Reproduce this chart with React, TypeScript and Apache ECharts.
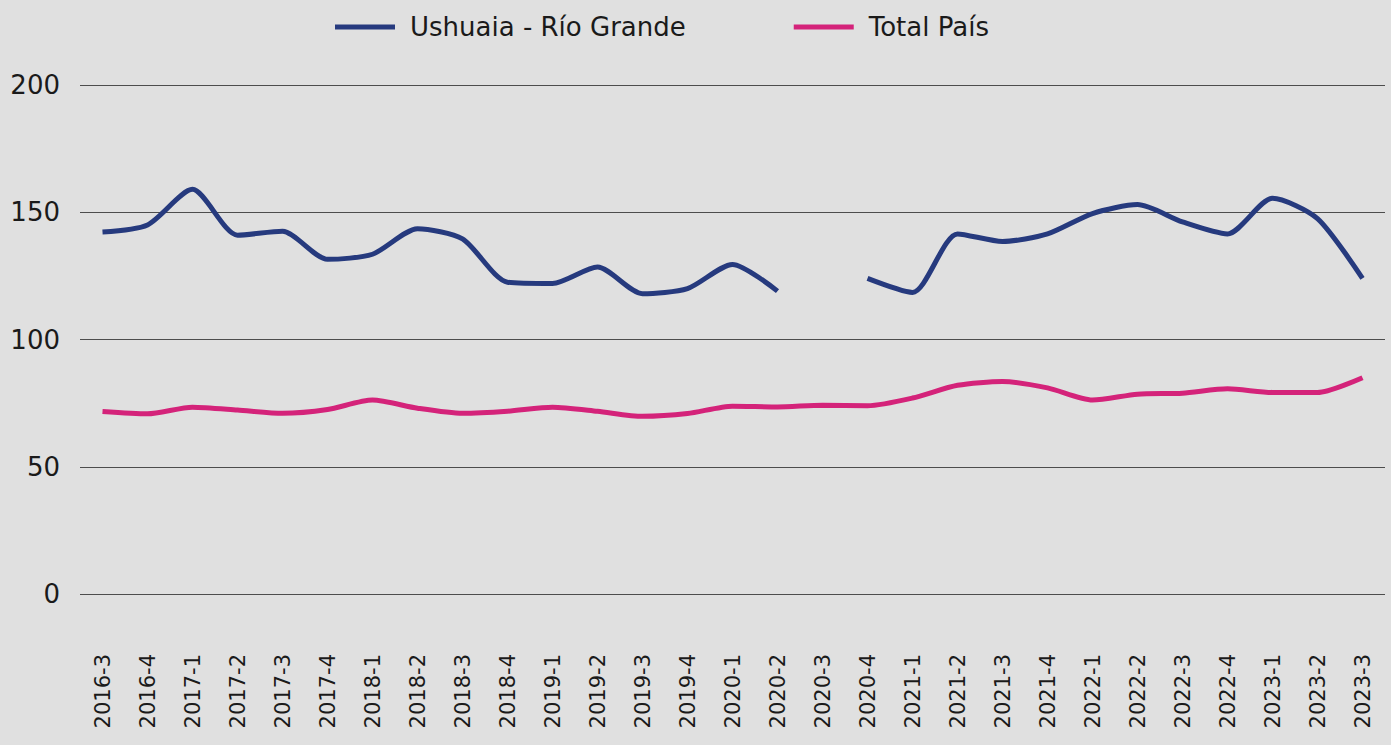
import React, { useEffect, useRef } from "react";
import * as echarts from "echarts";

const categories = [
  "2016-3", "2016-4",
  "2017-1", "2017-2", "2017-3", "2017-4",
  "2018-1", "2018-2", "2018-3", "2018-4",
  "2019-1", "2019-2", "2019-3", "2019-4",
  "2020-1", "2020-2", "2020-3", "2020-4",
  "2021-1", "2021-2", "2021-3", "2021-4",
  "2022-1", "2022-2", "2022-3", "2022-4",
  "2023-1", "2023-2", "2023-3",
];

const ushuaiaRioGrande: (number | null)[] = [
  142.2, 145, 159, 141, 142.5, 131.5, 133.5, 143.5, 139.5, 122.5,
  122, 128.5, 118, 120, 129.5, 119, null, 124, 118.5, 141.5,
  138.5, 141.5, 149.5, 153, 146.2, 141.5, 155.5, 147.5, 124,
];

const totalPais: number[] = [
  71.7, 70.8, 73.4, 72.3, 71, 72.5, 76.2, 73, 71, 71.8,
  73.4, 71.8, 69.8, 70.9, 73.8, 73.5, 74.2, 74, 77, 82,
  83.5, 81, 76.2, 78.5, 78.9, 80.6, 79.2, 79.2, 85,
];

const yTicks = { min: 0, max: 200, interval: 50 };

const FONT = "DejaVu Sans";
const BLUE = "#263a7e";
const PINK = "#d4237a";

export default function App() {
  const ref = useRef<HTMLDivElement>(null);

  useEffect(() => {
    document.body.style.margin = "0";
    document.body.style.background = "#e0e0e0";
    if (!ref.current) return;
    const chart = echarts.init(ref.current, null, { renderer: "svg" });
    chart.setOption({
      animation: false,
      backgroundColor: "#e0e0e0",
      textStyle: { fontFamily: FONT },
      legend: {
        left: 330,
        top: 9,
        itemWidth: 60,
        itemHeight: 5,
        itemGap: 108,
        icon: "rect",
        textStyle: { fontFamily: FONT, fontSize: 26, color: "#1a1a1a", padding: [0, 0, 0, 10] },
        data: ["Ushuaia - Río Grande", "Total País"],
      },
      grid: { left: 80, right: 6, top: 85, bottom: 151, containLabel: false },
      xAxis: {
        type: "category",
        data: categories,
        boundaryGap: true,
        axisLine: { show: false },
        axisTick: { show: false },
        axisLabel: {
          rotate: 90,
          margin: 60,
          interval: 0,
          fontFamily: FONT,
          fontSize: 21,
          color: "#1a1a1a",
        },
      },
      yAxis: {
        type: "value",
        min: yTicks.min,
        max: yTicks.max,
        interval: yTicks.interval,
        axisLine: { show: false },
        axisTick: { show: false },
        axisLabel: { margin: 20, fontFamily: FONT, fontSize: 26, color: "#1a1a1a" },
        splitLine: { lineStyle: { color: "#4d4d4d", width: 1 } },
      },
      series: [
        {
          name: "Ushuaia - Río Grande",
          type: "line",
          data: ushuaiaRioGrande,
          smooth: 0.25,
          symbol: "none",
          connectNulls: false,
          lineStyle: { color: BLUE, width: 5 },
          itemStyle: { color: BLUE },
        },
        {
          name: "Total País",
          type: "line",
          data: totalPais,
          smooth: 0.25,
          symbol: "none",
          lineStyle: { color: PINK, width: 5 },
          itemStyle: { color: PINK },
        },
      ],
    });
    return () => chart.dispose();
  }, []);

  return <div ref={ref} style={{ width: 1391, height: 745, background: "#e0e0e0" }} />;
}
